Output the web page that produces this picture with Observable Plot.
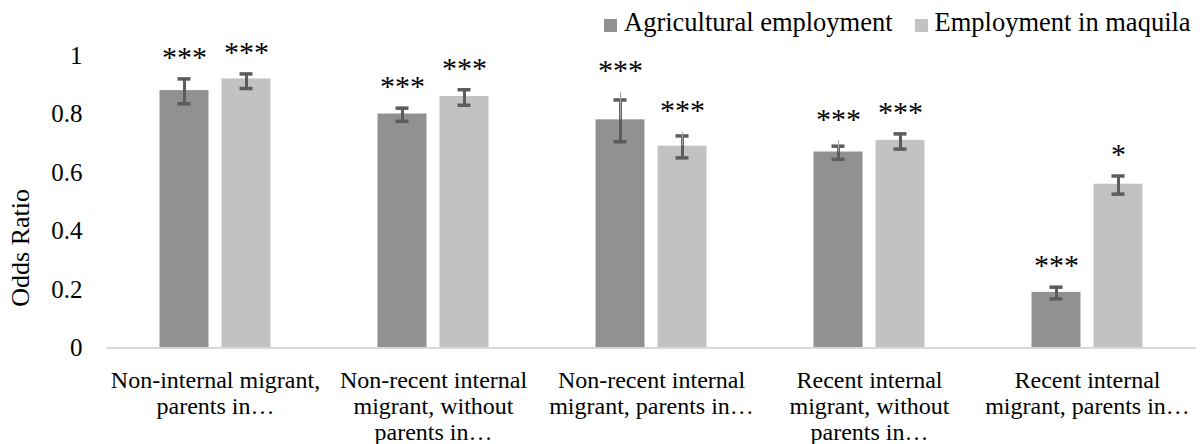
<!DOCTYPE html>
<html>
<head>
<meta charset="utf-8">
<script src="https://cdn.jsdelivr.net/npm/d3@7"></script>
<script src="https://cdn.jsdelivr.net/npm/@observablehq/plot@0.6"></script>
<style>
  html, body { margin: 0; padding: 0; background: #fff; }
  body { width: 1200px; height: 444px; overflow: hidden; font-family: "Liberation Serif", "Times New Roman", Times, serif; }
  #legend { height: 36px; position: relative; font-size: 26.5px; color: #000; }
  #legend .item { position: absolute; top: 4px; line-height: 36px; white-space: nowrap; }
  #legend .sw { display: inline-block; width: 13px; height: 13px; margin-right: 7px; vertical-align: -1px; }
  #chart svg { display: block; }
  #chart svg text { font-family: "Liberation Serif", "Times New Roman", Times, serif; }
</style>
</head>
<body>
<div id="legend"></div>
<div id="chart"></div>
<script>
// Categories (axis labels wrap onto several lines)
const categories = [
  "Non-internal migrant,\nparents in…",
  "Non-recent internal\nmigrant, without\nparents in…",
  "Non-recent internal\nmigrant, parents in…",
  "Recent internal\nmigrant, without\nparents in…",
  "Recent internal\nmigrant, parents in…"
];
const seriesNames = ["Agricultural employment", "Employment in maquila"];
const seriesColors = ["#919191", "#c2c2c2"];

// Odds ratios with error bounds
const agriValues = [0.88, 0.80, 0.78, 0.67, 0.19];
const agriLow    = [0.835, 0.775, 0.705, 0.645, 0.168];
const agriHigh   = [0.92, 0.82, 0.848, 0.69, 0.208];
const agriThin   = [null, null, 0.875, 0.708, null];
const agriSig    = ["***", "***", "***", "***", "***"];

const maqValues = [0.92, 0.86, 0.69, 0.71, 0.56];
const maqLow    = [0.887, 0.83, 0.65, 0.68, 0.526];
const maqHigh   = [0.937, 0.883, 0.725, 0.732, 0.588];
const maqThin   = [null, null, 0.737, null, null];
const maqSig    = ["***", "***", "***", "***", "*"];

const yTicks = [0, 0.2, 0.4, 0.6, 0.8, 1];
const yTickLabels = ["0", "0.2", "0.4", "0.6", "0.8", "1"];

// Long table built from the arrays above
const rows = [];
categories.forEach((c, i) => {
  [[agriValues, agriLow, agriHigh, agriThin, agriSig], [maqValues, maqLow, maqHigh, maqThin, maqSig]]
    .forEach(([v, lo, hi, th, sig], s) => {
      rows.push({
        category: c,
        series: seriesNames[s],
        value: v[i],
        low: lo[i],
        high: hi[i],
        thin: th[i],
        sig: sig[i],
        top: Math.max(hi[i], th[i] ?? -Infinity)
      });
    });
});

// Legend
const legend = document.getElementById("legend");
const legendLeft = [604, 914.5];
seriesNames.forEach((name, i) => {
  const item = document.createElement("span");
  item.className = "item";
  item.style.left = legendLeft[i] + "px";
  item.innerHTML = `<span class="sw" style="background:${seriesColors[i]}"></span>${name}`;
  legend.appendChild(item);
});

const font = "'Liberation Serif', 'Times New Roman', Times, serif";

const chart = Plot.plot({
  width: 1200,
  height: 408,
  marginTop: 19,
  marginBottom: 96.5,
  marginLeft: 105.5,
  marginRight: 4.5,
  style: { fontFamily: font, color: "#000", background: "#fff", overflow: "visible" },
  fx: { domain: categories, padding: 0, label: null },
  x: { domain: seriesNames, paddingInner: 0.21, paddingOuter: 0.863, axis: null },
  y: { domain: [0, 1], label: null },
  color: { domain: seriesNames, range: seriesColors },
  marks: [
    Plot.axisY({
      ticks: yTicks,
      tickFormat: (d) => yTickLabels[yTicks.indexOf(d)],
      tickSize: 0,
      tickPadding: 24,
      fontSize: 25,
      label: null
    }),
    Plot.axisFx({
      anchor: "bottom",
      tickSize: 0,
      tickPadding: 21,
      fontSize: 24,
      lineHeight: 1.09,
      label: null
    }),
    Plot.barY(rows, { fx: "category", x: "series", y: "value", fill: "series" }),
    Plot.ruleY([0], { stroke: "#d9d9d9", strokeWidth: 2 }),
    // error bars
    Plot.ruleX(rows, { fx: "category", x: "series", y1: "low", y2: "high", stroke: "#5c5c5c", strokeWidth: 3 }),
    Plot.tickY(rows, { fx: "category", x: "series", y: "low", stroke: "#5c5c5c", strokeWidth: 3.5, insetLeft: 18, insetRight: 18 }),
    Plot.tickY(rows, { fx: "category", x: "series", y: "high", stroke: "#5c5c5c", strokeWidth: 3.5, insetLeft: 18, insetRight: 18 }),
    // thin whisker extensions
    Plot.ruleX(rows.filter((d) => d.thin != null), { fx: "category", x: "series", y1: "value", y2: "thin", stroke: "#a8a8a8", strokeWidth: 1.2 }),
    // significance stars
    Plot.text(rows, { fx: "category", x: "series", y: "top", text: "sig", dy: -12, lineAnchor: "bottom", fontSize: 30, fill: "#000" }),
    // y axis title
    Plot.text(["Odds Ratio"], { facet: "super", frameAnchor: "left", rotate: -90, dx: -86, dy: 105, fontSize: 26, fill: "#000" })
  ]
});
document.getElementById("chart").appendChild(chart);
</script>
</body>
</html>
